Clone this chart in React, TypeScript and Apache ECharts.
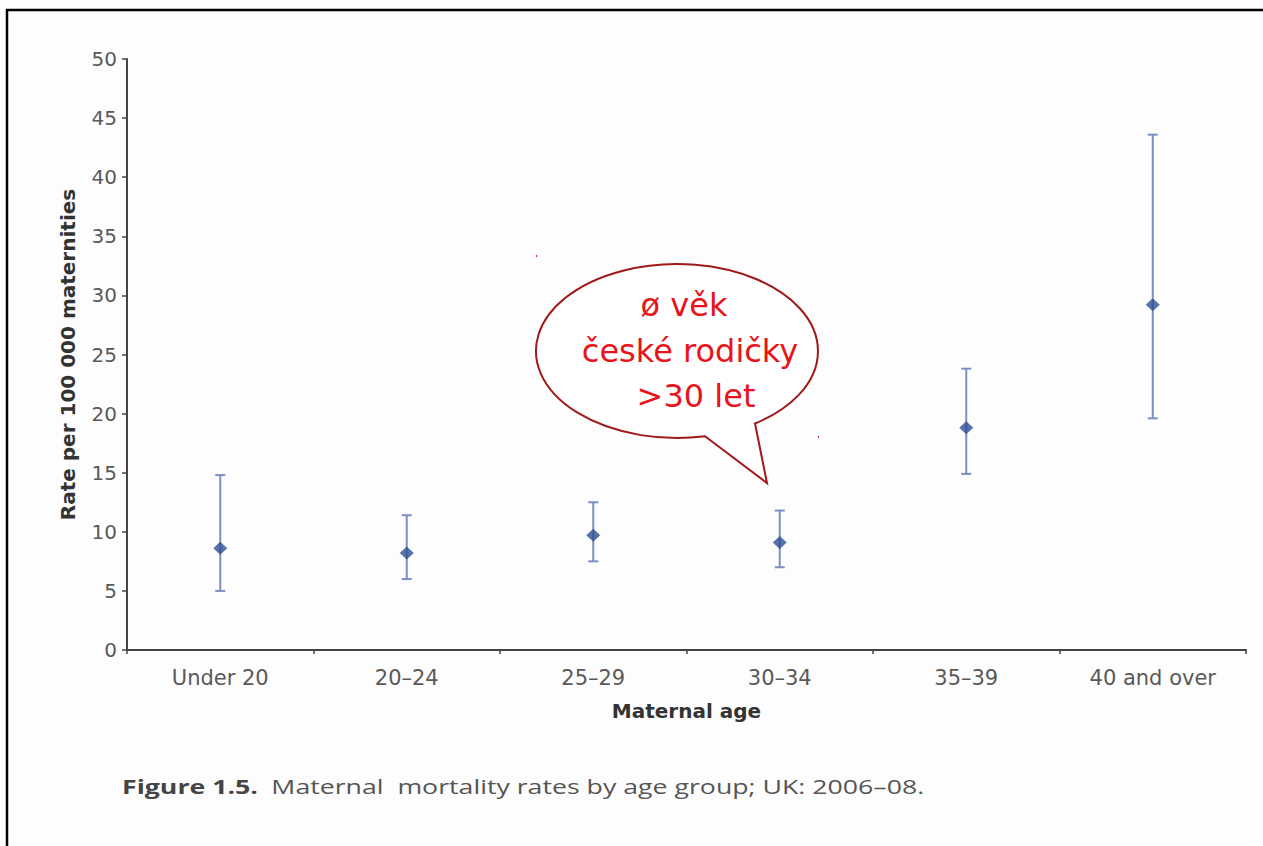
import React, { useEffect, useRef } from "react";
import * as echarts from "echarts";

const categories = ["Under 20", "20–24", "25–29", "30–34", "35–39", "40 and over"];
const rates = [8.6, 8.2, 9.7, 9.1, 18.8, 29.2];
const lowerCI = [5.0, 6.0, 7.5, 7.0, 14.9, 19.6];
const upperCI = [14.8, 11.4, 12.5, 11.8, 23.8, 43.6];
const yTicks = { min: 0, max: 50, interval: 5 };
const calloutLines = ["ø věk", "české rodičky", ">30 let"];
const captionBold = "Figure 1.5.";
const captionText = "Maternal  mortality rates by age group; UK: 2006–08.";
const xTitle = "Maternal age";
const yTitle = "Rate per 100 000 maternities";

const calloutPath =
  "M 755 423.5 L 767 483 L 705 436.3 A 141 87 0 1 1 755 423.5 Z";

let registered = false;

export default function App() {
  const ref = useRef<HTMLDivElement>(null);
  useEffect(() => {
    if (!registered) {
      echarts.graphic.registerShape("logo", echarts.graphic.extendPath(calloutPath, {}));
      registered = true;
    }
    const chart = echarts.init(ref.current!, null, { renderer: "svg" });
    const axisColor = "#444";
    const labelColor = "#595959";
    chart.setOption({
      animation: false,
      backgroundColor: "#fdfdfd",
      grid: { left: 127, top: 59, right: 17, bottom: 196, containLabel: false },
      xAxis: {
        type: "category",
        data: categories,
        name: xTitle,
        nameLocation: "middle",
        nameGap: 51,
        nameTextStyle: { fontFamily: "DejaVu Sans", fontSize: 20, fontWeight: "bold", color: "#333" },
        axisLine: { lineStyle: { color: axisColor, width: 2 } },
        axisTick: { show: true, length: 4, lineStyle: { color: axisColor, width: 1.5 } },
        axisLabel: { fontFamily: "DejaVu Sans", fontSize: 21, color: labelColor, margin: 17 },
        splitLine: { show: false },
      },
      yAxis: {
        type: "value",
        min: yTicks.min,
        max: yTicks.max,
        interval: yTicks.interval,
        name: yTitle,
        nameLocation: "middle",
        nameGap: 49,
        nameTextStyle: { fontFamily: "DejaVu Sans", fontSize: 20, fontWeight: "bold", color: "#333" },
        axisLine: { show: true, lineStyle: { color: axisColor, width: 2 } },
        axisTick: { show: true, length: 5, lineStyle: { color: axisColor, width: 1.5 } },
        axisLabel: { fontFamily: "DejaVu Sans", fontSize: 20, color: labelColor, margin: 10 },
        splitLine: { show: false },
      },
      series: [
        {
          type: "custom",
          data: categories.map((_, i) => [i, lowerCI[i], upperCI[i]]),
          renderItem: (params: any, api: any) => {
            const lo = api.coord([api.value(0), api.value(1)]);
            const hi = api.coord([api.value(0), api.value(2)]);
            const cap = 5;
            const style = { stroke: "#7b8fc2", lineWidth: 2 };
            return {
              type: "group",
              children: [
                { type: "line", shape: { x1: lo[0], y1: lo[1], x2: hi[0], y2: hi[1] }, style },
                { type: "line", shape: { x1: lo[0] - cap, y1: lo[1], x2: lo[0] + cap, y2: lo[1] }, style },
                { type: "line", shape: { x1: hi[0] - cap, y1: hi[1], x2: hi[0] + cap, y2: hi[1] }, style },
              ],
            };
          },
          z: 2,
        },
        {
          type: "scatter",
          data: rates,
          symbol: "diamond",
          symbolSize: [14, 13],
          itemStyle: { color: "#2d4f93" },
          z: 3,
        },
      ],
      graphic: [
        {
          type: "rect",
          shape: { x: 7, y: 10, width: 1400, height: 1000 },
          style: { fill: "none", stroke: "#000", lineWidth: 2.5 },
          z: 10,
        },
        {
          type: "logo",
          x: 0,
          y: 0,
          style: { fill: "#fff", stroke: "#a01818", lineWidth: 2 },
          z: 20,
        },
        {
          type: "text",
          x: 684,
          y: 305,
          style: { text: calloutLines[0], fill: "#e8141a", fontFamily: "DejaVu Sans", fontSize: 32, align: "center", verticalAlign: "middle" },
          z: 21,
        },
        {
          type: "text",
          x: 690,
          y: 351,
          style: { text: calloutLines[1], fill: "#e8141a", fontFamily: "DejaVu Sans", fontSize: 32, align: "center", verticalAlign: "middle" },
          z: 21,
        },
        {
          type: "text",
          x: 696,
          y: 396,
          style: { text: calloutLines[2], fill: "#e8141a", fontFamily: "DejaVu Sans", fontSize: 32, align: "center", verticalAlign: "middle" },
          z: 21,
        },
        { type: "rect", shape: { x: 536, y: 255, width: 1, height: 2 }, style: { fill: "#d02020" }, z: 21 },
        { type: "rect", shape: { x: 818, y: 436, width: 1, height: 2 }, style: { fill: "#d02020" }, z: 21 },
        {
          type: "text",
          x: 122,
          y: 786,
          scaleX: 1.335,
          style: {
            text: "{b|" + captionBold + "}   {n|" + captionText + "}",
            verticalAlign: "middle",
            rich: {
              b: { fontFamily: "Open Sans", fontWeight: "bold", fontSize: 20, fill: "#444", color: "#444" },
              n: { fontFamily: "Open Sans", fontSize: 20, fill: "#555", color: "#555" },
            },
          },
          z: 21,
        },
      ],
    });
    return () => chart.dispose();
  }, []);
  return (
    <div
      ref={ref}
      style={{ position: "absolute", left: 0, top: 0, width: 1263, height: 846 }}
    />
  );
}
